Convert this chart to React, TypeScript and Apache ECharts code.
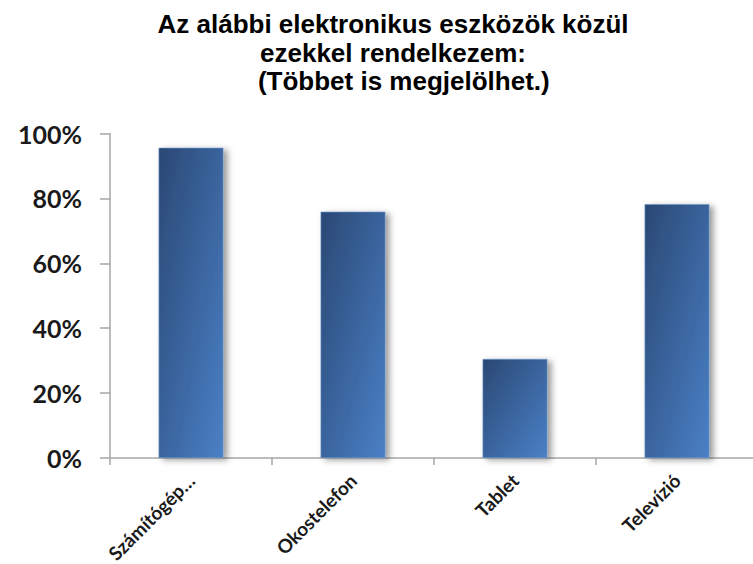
import React, { useEffect, useRef } from "react";
import * as echarts from "echarts";

const titleLines = [
  "Az alábbi elektronikus eszközök közül",
  "ezekkel rendelkezem:",
  "   (Többet is megjelölhet.)",
];
const categories = ["Számítógép…", "Okostelefon", "Tablet", "Televízió"];
const values = [0.956, 0.759, 0.305, 0.782];
const yTicks = [0, 0.2, 0.4, 0.6, 0.8, 1.0];

export default function App() {
  const ref = useRef<HTMLDivElement>(null);
  useEffect(() => {
    document.body.style.margin = "0";
    const chart = echarts.init(ref.current!, null, { renderer: "svg" });
    chart.setOption({
      animation: false,
      backgroundColor: "#ffffff",
      title: {
        text: titleLines.join("\n"),
        left: 388,
        top: 5,
        textAlign: "center",
        textStyle: {
          fontFamily: "Liberation Sans",
          fontWeight: "bold",
          fontSize: 26,
          lineHeight: 28.5,
          color: "#000000",
        },
      },
      grid: {
        left: 110,
        right: -5,
        top: 133.5,
        bottom: 106,
        containLabel: false,
        outerBoundsMode: "none",
      },
      xAxis: {
        type: "category",
        data: categories,
        axisLine: { show: true, lineStyle: { color: "#a6a6a6", width: 1.5 } },
        axisTick: { show: true, length: 7, lineStyle: { color: "#a6a6a6", width: 1.5 } },
        axisLabel: {
          rotate: 45,
          margin: 19,
          fontFamily: "Lato",
          fontWeight: "bold",
          fontSize: 19,
          color: "#1a1a1a",
        },
      },
      yAxis: {
        type: "value",
        min: yTicks[0],
        max: yTicks[yTicks.length - 1],
        interval: 0.2,
        axisLine: { show: true, lineStyle: { color: "#a6a6a6", width: 1.5 } },
        axisTick: { show: true, length: 10, lineStyle: { color: "#a6a6a6", width: 1.5 } },
        axisLabel: {
          margin: 28,
          fontFamily: "Lato",
          fontWeight: "bold",
          fontSize: 25,
          color: "#1a1a1a",
          formatter: (v: number) => Math.round(v * 100) + "%",
        },
        splitLine: {
          show: true,
          lineStyle: {
            color: "#b3b3b3",
            width: 2,
            shadowColor: "rgba(0,0,0,0.12)",
            shadowBlur: 4,
            shadowOffsetY: 4,
          },
        },
      },
      series: [
        {
          type: "bar",
          data: values,
          barWidth: "40%",
          itemStyle: {
            color: new echarts.graphic.LinearGradient(0, 0, 1, 1, [
              { offset: 0, color: "#2a4874" },
              { offset: 1, color: "#4a80c6" },
            ]),
            borderColor: "#6f95c8",
            borderWidth: 0.6,
            shadowColor: "rgba(0,0,0,0.4)",
            shadowBlur: 6,
            shadowOffsetX: 4,
            shadowOffsetY: 2,
          },
        },
      ],
    });
    return () => chart.dispose();
  }, []);
  return (
    <div
      ref={ref}
      style={{ position: "fixed", left: 0, top: 0, width: 753, height: 564 }}
    />
  );
}
